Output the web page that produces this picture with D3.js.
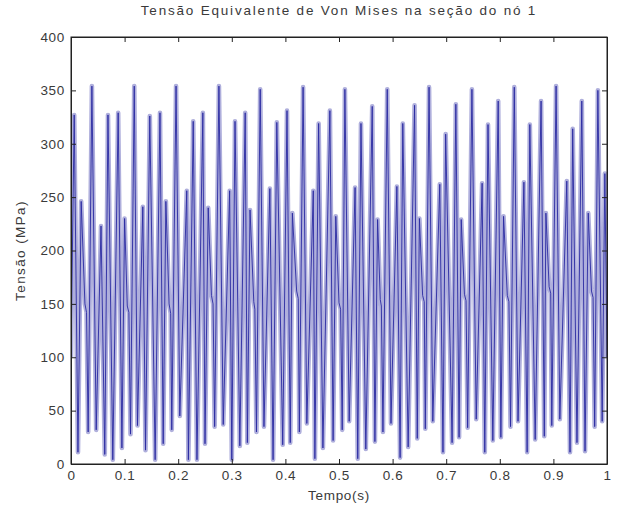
<!DOCTYPE html>
<html>
<head>
<meta charset="utf-8">
<script src="https://cdn.jsdelivr.net/npm/d3@7"></script>
<style>
  body { margin: 0; background: #fff; }
  text { font-family: "Liberation Sans", Arial, sans-serif; font-size: 13.5px; fill: #3a3a3a; letter-spacing: 0.7px; }
</style>
</head>
<body>
<div id="chart"></div>
<script>
// Chart text
const title = "Tensão Equivalente de Von Mises na seção do nó 1";
const xLabel = "Tempo(s)";
const yLabel = "Tensão (MPa)";

// Tick labels
const xTicks = [0, 0.1, 0.2, 0.3, 0.4, 0.5, 0.6, 0.7, 0.8, 0.9, 1];
const yTicks = [0, 50, 100, 150, 200, 250, 300, 350, 400];

// Signal vertices (one row per ~0.078 s cycle)
const time = [
  0.000, 0.006, 0.013, 0.019, 0.026, 0.029, 0.032, 0.039,
  0.047, 0.056, 0.063, 0.069, 0.078, 0.088, 0.095, 0.100, 0.105, 0.108, 0.111, 0.118,
  0.124, 0.134, 0.139, 0.147, 0.157, 0.166, 0.172, 0.177, 0.183, 0.186, 0.188, 0.196,
  0.203, 0.216, 0.219, 0.228, 0.235, 0.246, 0.250, 0.256, 0.262, 0.265, 0.268, 0.276,
  0.284, 0.296, 0.300, 0.306, 0.315, 0.325, 0.329, 0.334, 0.341, 0.343, 0.346, 0.353,
  0.360, 0.371, 0.377, 0.384, 0.395, 0.403, 0.409, 0.413, 0.421, 0.424, 0.426, 0.433,
  0.440, 0.452, 0.455, 0.462, 0.470, 0.483, 0.489, 0.494, 0.500, 0.503, 0.506, 0.511,
  0.519, 0.530, 0.535, 0.541, 0.550, 0.562, 0.567, 0.572, 0.577, 0.579, 0.582, 0.590,
  0.597, 0.608, 0.614, 0.619, 0.629, 0.641, 0.646, 0.650, 0.656, 0.659, 0.661, 0.668,
  0.675, 0.688, 0.694, 0.699, 0.711, 0.718, 0.724, 0.728, 0.734, 0.737, 0.740, 0.748,
  0.756, 0.767, 0.772, 0.778, 0.787, 0.797, 0.802, 0.807, 0.814, 0.817, 0.820, 0.827,
  0.834, 0.845, 0.851, 0.856, 0.866, 0.877, 0.883, 0.886, 0.892, 0.895, 0.897, 0.905,
  0.912, 0.925, 0.931, 0.936, 0.944, 0.953, 0.959, 0.965, 0.971, 0.974, 0.977, 0.983,
  0.991, 0.996, 1.000
];
const stress = [
  100, 327, 11, 246, 150, 142, 30, 354,
  32, 223, 9, 327, 4, 329, 15, 230, 148, 142, 28, 354,
  36, 241, 13, 326, 4, 329, 19, 246, 150, 141, 32, 354,
  45, 256, 4, 321, 4, 329, 19, 240, 158, 150, 35, 354,
  37, 256, 4, 321, 17, 329, 20, 238, 152, 145, 30, 351,
  35, 258, 4, 320, 18, 331, 20, 235, 162, 155, 30, 353,
  38, 256, 5, 319, 15, 331, 22, 232, 151, 145, 32, 351,
  40, 259, 5, 319, 14, 335, 21, 229, 154, 148, 30, 351,
  38, 260, 6, 319, 16, 336, 24, 230, 158, 152, 33, 353,
  40, 262, 11, 309, 20, 337, 25, 229, 159, 153, 34, 351,
  42, 263, 11, 318, 22, 340, 25, 232, 158, 152, 35, 353,
  40, 264, 11, 318, 23, 340, 26, 235, 166, 160, 36, 354,
  42, 265, 11, 314, 20, 340, 12, 235, 162, 156, 35, 350,
  40, 272, 100
];

const data = time.map((t, i) => ({ t: t, v: stress[i] }));

// Dimensions and margins
const margin = { top: 37, right: 10, bottom: 46, left: 71 },
      width = 617 - margin.left - margin.right,
      height = 510 - margin.top - margin.bottom;

const svg = d3.select("#chart")
  .append("svg")
  .attr("width", width + margin.left + margin.right)
  .attr("height", height + margin.top + margin.bottom)
  .append("g")
  .attr("transform", `translate(${margin.left},${margin.top})`);

// Scales
const xScale = d3.scaleLinear().domain([0, 1]).range([0, width]);
const yScale = d3.scaleLinear().domain([0, 400]).range([height, 0]);

svg.append("clipPath").attr("id", "clip")
  .append("rect").attr("width", width).attr("height", height);

// Signal: light wide stroke underneath, thin dark stroke on top
const line = d3.line()
  .x(d => xScale(d.t))
  .y(d => yScale(d.v));

const plot = svg.append("g").attr("clip-path", "url(#clip)");

plot.append("path")
  .datum(data)
  .attr("fill", "none")
  .attr("stroke", "#afafdc")
  .attr("stroke-width", 4.6)
  .attr("stroke-linejoin", "round")
  .attr("d", line);

plot.append("path")
  .datum(data)
  .attr("fill", "none")
  .attr("stroke", "#2a2aa2")
  .attr("stroke-width", 0.9)
  .attr("d", line);

// Axes (MATLAB style: inward ticks, boxed)
const fmt = d => String(d);

svg.append("g")
  .attr("transform", `translate(0,${height})`)
  .call(d3.axisBottom(xScale).tickValues(xTicks).tickFormat(fmt).tickSize(-5).tickSizeOuter(0).tickPadding(6));

svg.append("g")
  .call(d3.axisLeft(yScale).tickValues(yTicks).tickFormat(fmt).tickSize(-5).tickSizeOuter(0).tickPadding(6));

svg.append("g")
  .call(d3.axisTop(xScale).tickValues(xTicks).tickFormat("").tickSize(-5).tickSizeOuter(0));

svg.append("g")
  .attr("transform", `translate(${width},0)`)
  .call(d3.axisRight(yScale).tickValues(yTicks).tickFormat("").tickSize(-5).tickSizeOuter(0));

svg.selectAll(".domain").attr("stroke", "#222");
svg.selectAll(".tick line").attr("stroke", "#222");
svg.selectAll(".tick text")
  .style("font-family", "'Liberation Sans', Arial, sans-serif")
  .style("font-size", "13.5px")
  .attr("fill", "#3a3a3a");

svg.append("rect")
  .attr("width", width)
  .attr("height", height)
  .attr("fill", "none")
  .attr("stroke", "#222")
  .attr("stroke-width", 1);

// Labels
svg.append("text")
  .attr("x", width / 2)
  .attr("y", -22)
  .attr("text-anchor", "middle")
  .style("letter-spacing", "1.8px")
  .text(title);

svg.append("text")
  .attr("x", width / 2)
  .attr("y", height + 36)
  .attr("text-anchor", "middle")
  .text(xLabel);

svg.append("text")
  .attr("transform", "rotate(-90)")
  .attr("x", -height / 2)
  .attr("y", -margin.left + 25)
  .attr("text-anchor", "middle")
  .style("letter-spacing", "1.4px")
  .text(yLabel);
</script>
</body>
</html>
